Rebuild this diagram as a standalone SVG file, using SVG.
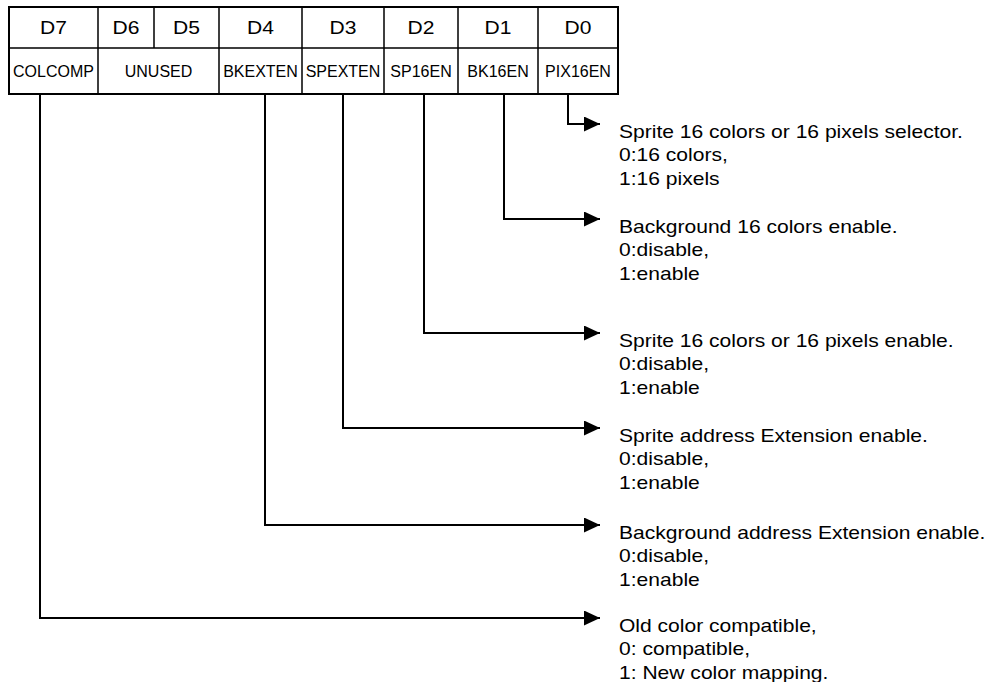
<svg xmlns="http://www.w3.org/2000/svg" width="992" height="682" viewBox="0 0 992 682">
<style>
.tbl{fill:none;stroke:#000;stroke-width:2}
.in{stroke:#000;stroke-width:1.5;fill:none}
.hd{font-family:"Liberation Sans",Arial,sans-serif;font-size:18px;fill:#000;text-anchor:middle}
.lb{font-family:"Liberation Sans",Arial,sans-serif;font-size:16px;fill:#000;text-anchor:middle}
.ds{font-family:"Liberation Sans",Arial,sans-serif;font-size:18px;fill:#000}
.cn{fill:none;stroke:#000;stroke-width:2;marker-end:url(#ah)}
</style>
<defs>
<marker id="ah" markerUnits="userSpaceOnUse" markerWidth="16" markerHeight="15" refX="16" refY="7.5" orient="auto">
<path d="M0,0 L16,7.5 L0,15 Z" fill="#000"/>
</marker>
</defs>
<rect width="992" height="682" fill="#fff"/>
<g id="register">
<rect class="tbl" x="9" y="7" width="609" height="87"/>
<path class="in" d="M9,48 H618 M98,7 V94 M154,7 V48 M219,7 V94 M302,7 V94 M384,7 V94 M458,7 V94 M538,7 V94"/>
<g transform="translate(53.5,34) scale(1.17,1)"><text class="hd" x="0" y="0">D7</text></g>
<g transform="translate(126,34) scale(1.17,1)"><text class="hd" x="0" y="0">D6</text></g>
<g transform="translate(186.5,34) scale(1.17,1)"><text class="hd" x="0" y="0">D5</text></g>
<g transform="translate(260.5,34) scale(1.17,1)"><text class="hd" x="0" y="0">D4</text></g>
<g transform="translate(343,34) scale(1.17,1)"><text class="hd" x="0" y="0">D3</text></g>
<g transform="translate(421,34) scale(1.17,1)"><text class="hd" x="0" y="0">D2</text></g>
<g transform="translate(498,34) scale(1.17,1)"><text class="hd" x="0" y="0">D1</text></g>
<g transform="translate(578,34) scale(1.17,1)"><text class="hd" x="0" y="0">D0</text></g>
<text class="lb" x="53.5" y="77">COLCOMP</text>
<text class="lb" x="158.5" y="77">UNUSED</text>
<text class="lb" x="260.5" y="77">BKEXTEN</text>
<text class="lb" x="343" y="77">SPEXTEN</text>
<text class="lb" x="421" y="77">SP16EN</text>
<text class="lb" x="498" y="77">BK16EN</text>
<text class="lb" x="578" y="77">PIX16EN</text>
</g>
<g id="connectors">
<path class="cn" d="M568,94 V124 H600"/>
<path class="cn" d="M504,94 V219 H600"/>
<path class="cn" d="M424,94 V333 H600"/>
<path class="cn" d="M343,94 V428 H600"/>
<path class="cn" d="M265,94 V525 H600"/>
<path class="cn" d="M40,94 V618 H600"/>
</g>
<g id="desc-pix16en" transform="translate(619,137.5) scale(1.17,1)">
<text class="ds"><tspan x="0" y="0">Sprite 16 colors or 16 pixels selector.</tspan><tspan x="0" y="24">0:16 colors,</tspan><tspan x="0" y="48">1:16 pixels</tspan></text>
</g>
<g id="desc-bk16en" transform="translate(619,232.5) scale(1.17,1)">
<text class="ds"><tspan x="0" y="0">Background 16 colors enable.</tspan><tspan x="0" y="24">0:disable,</tspan><tspan x="0" y="48">1:enable</tspan></text>
</g>
<g id="desc-sp16en" transform="translate(619,346.5) scale(1.17,1)">
<text class="ds"><tspan x="0" y="0">Sprite 16 colors or 16 pixels enable.</tspan><tspan x="0" y="24">0:disable,</tspan><tspan x="0" y="48">1:enable</tspan></text>
</g>
<g id="desc-spexten" transform="translate(619,441.5) scale(1.17,1)">
<text class="ds"><tspan x="0" y="0">Sprite address Extension enable.</tspan><tspan x="0" y="24">0:disable,</tspan><tspan x="0" y="48">1:enable</tspan></text>
</g>
<g id="desc-bkexten" transform="translate(619,538.5) scale(1.17,1)">
<text class="ds"><tspan x="0" y="0">Background address Extension enable.</tspan><tspan x="0" y="24">0:disable,</tspan><tspan x="0" y="48">1:enable</tspan></text>
</g>
<g id="desc-colcomp" transform="translate(619,631.5) scale(1.17,1)">
<text class="ds"><tspan x="0" y="0">Old color compatible,</tspan><tspan x="0" y="24">0: compatible,</tspan><tspan x="0" y="48">1: New color mapping.</tspan></text>
</g>
</svg>
